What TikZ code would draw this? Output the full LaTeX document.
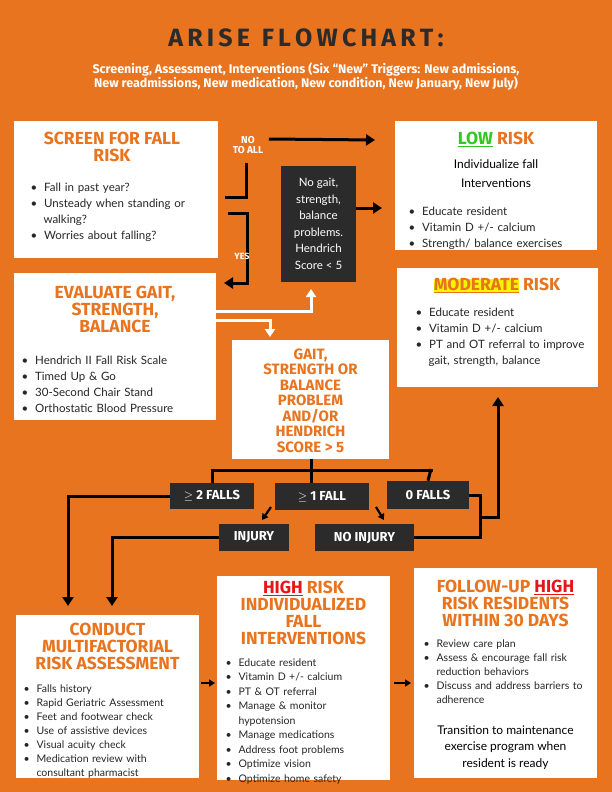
\documentclass[tikz,border=0pt]{standalone}
\usepackage{fontspec}
\setmainfont{Lato}
\newfontfamily\headf{Fira Sans}
\usetikzlibrary{arrows.meta}
\definecolor{bg}{HTML}{E8741F}
\definecolor{hd}{HTML}{E8741F}
\definecolor{dk}{HTML}{2B2B2B}
\definecolor{rd}{HTML}{E8141B}
\definecolor{yl}{HTML}{F5F500}
\definecolor{gr}{HTML}{2DCB1E}
\tikzset{
 wbox/.style={fill=white,draw=none},
 dbox/.style={fill=dk,draw=none,text=white,font=\headf\bfseries\fontsize{13}{14}\selectfont,inner sep=0pt},
 hdr/.style={text=hd,font=\headf\bfseries\fontsize{17.5}{17}\selectfont,align=center,anchor=north},
 body/.style={font=\fontsize{11.5}{16}\selectfont,text=black!85,anchor=north west,align=left},
 conn/.style={line width=3pt,-{Triangle[length=9pt,width=11pt]}},
 line/.style={line width=3pt},
 wconn/.style={line width=3pt,white,-{Triangle[length=8pt,width=10pt]}},
}
\newcommand{\bl}[1]{\item #1}
\newenvironment{blist}{\begin{list}{\textbullet}{\leftmargin=13pt\labelwidth=6pt\labelsep=7pt\itemsep=0pt\parsep=0pt\topsep=0pt}}{\end{list}}
\begin{document}
\begin{tikzpicture}[x=1pt,y=-1pt]
\fill[bg] (0,0) rectangle (612,792);
\useasboundingbox (0,0) rectangle (612,792);
\node[font=\headf\bfseries\fontsize{25}{26}\selectfont,text=dk] (title) at (306,38) {A\,R\,I\,S\,E\ \ F\,L\,O\,W\,C\,H\,A\,R\,T\,:};
\node[font=\headf\bfseries\fontsize{12.5}{14}\selectfont,text=white,align=center] (sub) at (306,77) {Screening, Assessment, Interventions (Six “New” Triggers: New admissions,\\New readmissions, New medication, New condition, New January, New July)};
% boxes
\fill[wbox] (14,121) rectangle (218,258);
\node[hdr] (scrh) at (112,129) {SCREEN FOR FALL\\RISK};
\node[body,text width=180pt] (scrb) at (27,172) {\begin{blist}\bl{Fall in past year?}\bl{Unsteady when standing or walking?}\bl{Worries about falling?}\end{blist}};
\fill[wbox] (395,121) rectangle (597,250);
\node[hdr] (lowh) at (496,129) {\textcolor{gr}{\underline{LOW}}\ RISK};
\node[font=\fontsize{12}{19}\selectfont,align=center,anchor=north] (lowt) at (496,156) {Individualize fall\\Interventions};
\node[body,text width=190pt] (lowb) at (405,196) {\begin{blist}\bl{Educate resident}\bl{Vitamin D +/- calcium}\bl{Strength/ balance exercises}\end{blist}};
\fill[dk] (281,166) rectangle (356,282);
\node[text=white,font=\fontsize{11.5}{16.5}\selectfont,align=center] (nog) at (318.5,224) {No gait,\\strength,\\balance\\problems.\\Hendrich\\Score < 5};
\fill[wbox] (14,273) rectangle (216,420);
\node[hdr] (evh) at (115,283) {EVALUATE GAIT,\\STRENGTH,\\BALANCE};
\node[body,text width=195pt] (evb) at (18,345) {\begin{blist}\bl{Hendrich II Fall Risk Scale}\bl{Timed Up \& Go}\bl{30-Second Chair Stand}\bl{Orthostatic Blood Pressure}\end{blist}};
\fill[wbox] (397,268) rectangle (598,387);
\node[hdr] (modh) at (497,275) {{\fboxsep=0pt\colorbox{yl}{\underline{MODERATE}}} RISK};
\node[body,text width=170pt] (modb) at (412,297) {\begin{blist}\bl{Educate resident}\bl{Vitamin D +/- calcium}\bl{PT and OT referral to improve gait, strength, balance}\end{blist}};
\fill[wbox] (232,340) rectangle (389,459);
\node[hdr,font=\headf\bfseries\fontsize{15}{15.5}\selectfont] (gph) at (310.5,345) {GAIT,\\STRENGTH OR\\BALANCE\\PROBLEM\\AND/OR\\HENDRICH\\SCORE > 5};
% dark labels
\node[dbox,minimum width=84pt,minimum height=26pt] (f2) at (212,496) {$\geq$ 2 FALLS};
\node[dbox,minimum width=94pt,minimum height=27pt] (f1) at (322,496.5) {$\geq$ 1 FALL};
\node[dbox,minimum width=82pt,minimum height=28pt] (f0) at (428,495) {0 FALLS};
\node[dbox,minimum width=70pt,minimum height=27pt] (inj) at (254,537.5) {INJURY};
\node[dbox,minimum width=99pt,minimum height=27pt] (ninj) at (364.5,537.5) {NO INJURY};
% bottom boxes
\fill[wbox] (16,615) rectangle (199,778);
\node[hdr] (cmh) at (107.5,620) {CONDUCT\\MULTIFACTORIAL\\RISK ASSESSMENT};
\node[body,font=\fontsize{10.5}{14}\selectfont,text width=172pt] (cmb) at (20,675) {\begin{blist}\bl{Falls history}\bl{Rapid Geriatric Assessment}\bl{Feet and footwear check}\bl{Use of assistive devices}\bl{Visual acuity check}\bl{Medication review with consultant pharmacist}\end{blist}};
\fill[wbox] (217,576) rectangle (390,780);
\node[hdr] (hih) at (303.5,578) {\textcolor{rd}{\underline{HIGH}} RISK\\INDIVIDUALIZED\\FALL\\INTERVENTIONS};
\node[body,font=\fontsize{10.5}{14.5}\selectfont,text width=150pt] (hib) at (222,648) {\begin{blist}\bl{Educate resident}\bl{Vitamin D +/- calcium}\bl{PT \& OT referral}\bl{Manage \& monitor hypotension}\bl{Manage medications}\bl{Address foot problems}\bl{Optimize vision}\bl{Optimize home safety}\end{blist}};
\fill[wbox] (414,568) rectangle (597,778);
\node[hdr] (fuh) at (505.5,577) {FOLLOW-UP \textcolor{rd}{\underline{HIGH}}\\RISK RESIDENTS\\WITHIN 30 DAYS};
\node[body,font=\fontsize{10.5}{14}\selectfont,text width=170pt] (fub) at (420,630) {\begin{blist}\bl{Review care plan}\bl{Assess \& encourage fall risk reduction behaviors}\bl{Discuss and address barriers to adherence}\end{blist}};
\node[font=\fontsize{12}{16.5}\selectfont,align=center,anchor=north] (fut) at (505.5,722) {Transition to maintenance\\exercise program when\\resident is ready};
% connectors top
\node[text=white,font=\headf\bfseries\fontsize{10}{10}\selectfont,align=center] (noall) at (248,145) {NO\\TO ALL};
\coordinate (la) at (375,140);
\draw[conn] (noall.east|-la) ++(2,-1) -- (la);
\coordinate (a1) at (225,197); \coordinate (a2) at (246,163);
\draw[line] (a1) -| (a2);
\coordinate (b1) at (228,213); \coordinate (b2) at (247,283); \coordinate (b3) at (224,283);
\draw[conn] (b1) -| (b2) -- (b3);
\node[text=white,font=\headf\bfseries\fontsize{9}{9}\selectfont] (yes) at (242,256) {YES};
\coordinate (c1) at (356,208); \coordinate (c2) at (382,208);
\draw[conn] (c1) -- (c2);
\coordinate (w1) at (216,311); \coordinate (w2) at (311,289);
\draw[wconn] (w1) -| (w2);
\coordinate (w3) at (216,320); \coordinate (w4) at (270,337);
\draw[wconn] (w3) -| (w4);
% tree
\coordinate (t0) at (311,459); \coordinate (t1) at (311,470);
\draw[line] (t0) -- (t1);
\draw[line,line cap=rect] (212,470) -- (431,470);
\draw[line] (212,469) -- (f2.north);
\draw[line] (311,469) -- (311,483);
\draw[line] (431,469) -- (f0.north);
\draw[line width=2.2pt,-{Triangle[length=6pt,width=7pt]}] (271,507) -- (262,520);
\draw[line width=2.2pt,-{Triangle[length=6pt,width=7pt]}] (376,507) -- (384,520);
\coordinate (l1) at (68,606); \coordinate (l2) at (112,606);
\draw[conn] (f2.west) -| (l1);
\draw[conn] (inj.west) -| (l2);
\coordinate (r1) at (480,498); \coordinate (r2) at (480,517); \coordinate (r3) at (498,397);
\draw[line] (f0.east) -| (ninj.east -| r1) -- (ninj.east);
\draw[conn] (r2) -| (r3);
\coordinate (h1) at (201,683); \coordinate (h2) at (215,683);
\draw[line width=2.2pt,-{Triangle[length=6pt,width=7pt]}] (h1) -- (h2);
\coordinate (h3) at (394,683); \coordinate (h4) at (411,683);
\draw[line width=2.2pt,-{Triangle[length=6pt,width=7pt]}] (h3) -- (h4);
\end{tikzpicture}
\end{document}
